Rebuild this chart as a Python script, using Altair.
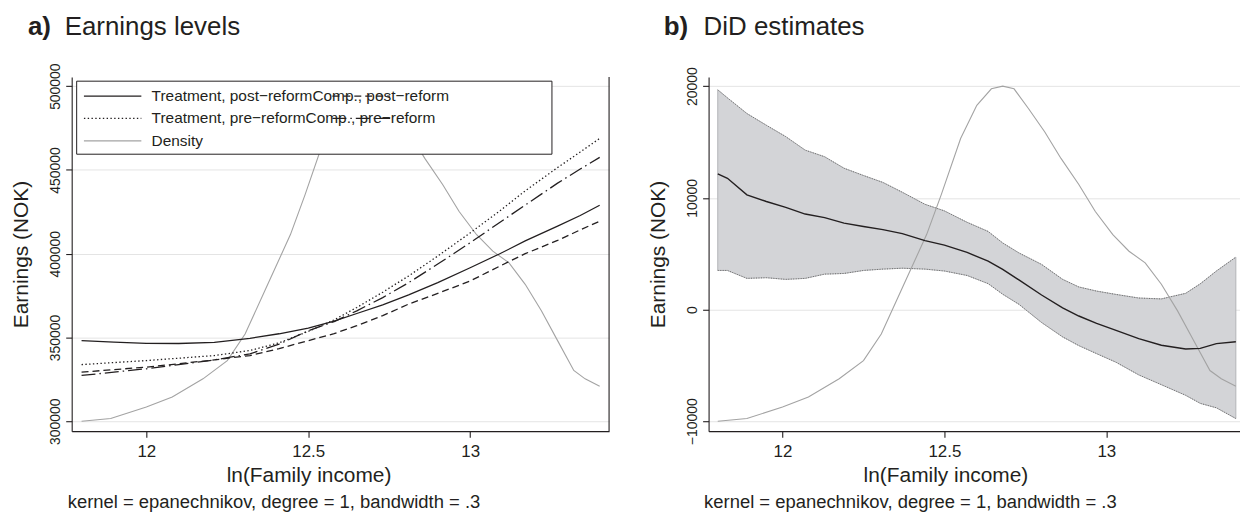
import altair as alt
import pandas as pd

FONT = "Liberation Sans"
INK = "#231f20"
GRID = "#e4e4e4"
DENS_COLOR = "#a3a3a3"

# ---------------- data ----------------
XTICKS = [12, 12.5, 13]
A_YTICKS = [300000, 350000, 400000, 450000, 500000]
B_YTICKS = [-10000, 0, 10000, 20000]

# Panel a: earnings levels (NOK) against ln(family income)
A_X = [11.80, 11.90, 12.00, 12.10, 12.21, 12.32, 12.41, 12.50, 12.58, 12.65,
       12.73, 12.81, 12.90, 13.00, 13.09, 13.17, 13.27, 13.34, 13.40]
A_TREAT_POST = [348100, 347200, 346500, 346400, 347000, 349500, 352200, 355600, 359700, 364300,
                369500, 375400, 382700, 391600, 399800, 407600, 416400, 422800, 428900]
A_TREAT_PRE = [333800, 335000, 336200, 337600, 339200, 342200, 346800, 353600, 360500, 367900,
               377000, 386700, 398600, 412400, 425300, 437500, 451400, 460700, 468800]
A_COMP_POST = [329300, 330800, 332300, 334300, 336600, 339200, 343300, 348100, 352300, 357000,
               363000, 369900, 376300, 383700, 392400, 400000, 407900, 414200, 419400]
A_COMP_PRE = [327300, 329300, 331300, 333800, 336600, 340200, 346000, 354000, 359500, 365900,
              373800, 382700, 393800, 406500, 418500, 429000, 442100, 450500, 457500]

# Density of ln(family income) (grey curve), as drawn in each panel
DENS_X = [11.80, 11.89, 12.00, 12.08, 12.175, 12.25, 12.305, 12.375, 12.445, 12.49,
          12.55, 12.60, 12.645, 12.68, 12.715, 12.76, 12.81, 12.86, 12.915, 12.966,
          13.02, 13.07, 13.12, 13.17, 13.22, 13.27, 13.32, 13.355, 13.40]
A_DENS = [300000, 301600, 308500, 314500, 325300, 336200, 352000, 381700, 411400, 435100,
          468700, 488500, 498400, 500000, 498400, 486500, 472700, 456900, 441300, 425200,
          411300, 401500, 394500, 381700, 365900, 348100, 330300, 325300, 320900]
B_DENS = [-10000, -9760, -8720, -7830, -6200, -4570, -2200, 2260, 6710, 10270,
          15310, 18280, 19760, 20000, 19760, 17980, 15900, 13530, 11200, 8780,
          6700, 5220, 4180, 2260, -120, -2790, -5460, -6200, -6860]

# Panel b: DiD estimate with confidence band
B_X = [11.80, 11.83, 11.89, 11.95, 12.01, 12.07, 12.13, 12.19, 12.25, 12.31,
       12.37, 12.44, 12.50, 12.57, 12.635, 12.68, 12.73, 12.80, 12.865, 12.915,
       12.97, 13.03, 13.10, 13.17, 13.245, 13.29, 13.34, 13.40]
B_EST = [12140, 11750, 10270, 9670, 9150, 8550, 8230, 7740, 7430, 7150,
         6800, 6170, 5760, 5110, 4330, 3590, 2650, 1300, 150, -580,
         -1240, -1870, -2600, -3200, -3530, -3480, -3050, -2880]
B_HI = [19670, 18950, 17550, 16500, 15480, 14270, 13680, 12650, 12000, 11380,
        10500, 9420, 8830, 7810, 6990, 5960, 5070, 4040, 2700, 2020,
        1650, 1350, 1030, 950, 1450, 2300, 3450, 4690]
B_LO = [3500, 3500, 2790, 2850, 2700, 2790, 3170, 3230, 3500, 3620,
        3700, 3620, 3450, 3050, 2320, 1370, 470, -1160, -2450, -3230,
        -3950, -4720, -5850, -6730, -7680, -8400, -8800, -9760]

LEGEND_COL1 = ["Treatment, post\u2212reform", "Treatment, pre\u2212reform", "Density"]
LEGEND_COL2 = ["Comp., post\u2212reform", "Comp., pre\u2212reform"]
TITLE_A = ("a)", "Earnings levels")
TITLE_B = ("b)", "DiD estimates")
NOTE = "kernel = epanechnikov, degree = 1, bandwidth = .3"
X_TITLE = "ln(Family income)"
Y_TITLE = "Earnings (NOK)"

# ---------------- layout ----------------
WA, WB, H = 540, 534, 356

XA = alt.Scale(domain=[11.7695, 13.429], nice=False, zero=False)
YA = alt.Scale(domain=[294060, 505520], nice=False, zero=False)
XB = alt.Scale(domain=[11.7717, 13.4128], nice=False, zero=False)
YB = alt.Scale(domain=[-10891, 20829], nice=False, zero=False)

ONE = pd.DataFrame({"k": [0]})


def x_enc(scale):
    return alt.X("x:Q", scale=scale, axis=alt.Axis(
        values=XTICKS, format="~g", grid=False,
        title=X_TITLE, titleX=238, titleAlign="center",
        titleFontSize=21, titleFontWeight="normal", titlePadding=6,
        labelFontSize=17, labelPadding=6, tickSize=6))


def y_enc(scale, ticks):
    return alt.Y("y:Q", scale=scale, axis=alt.Axis(
        values=ticks, format="d", grid=True, gridColor=GRID, gridWidth=1,
        labelAngle=270, labelAlign="center", labelBaseline="bottom",
        labelFontSize=14, labelPadding=3, tickSize=6,
        title=Y_TITLE, titleAngle=270, titleBaseline="bottom",
        titleFontSize=21, titleFontWeight="normal", titlePadding=17))


def line(xs, ys, xs_scale, ys_scale, ticks, color=INK, width=1.3, dash=None):
    kw = dict(color=color, strokeWidth=width)
    if dash:
        kw["strokeDash"] = dash
    return alt.Chart(pd.DataFrame({"x": xs, "y": ys})).mark_line(**kw).encode(
        x=x_enc(xs_scale), y=y_enc(ys_scale, ticks))


def text(t, x, y, size, weight="normal", align="left", baseline="alphabetic"):
    return alt.Chart(ONE).mark_text(
        font=FONT, fontSize=size, fontWeight=weight, align=align,
        baseline=baseline, color=INK).encode(
        x=alt.value(x), y=alt.value(y), text=alt.value(t))


def hrule(x1, x2, y, color=INK, width=1.3, dash=None):
    kw = dict(color=color, strokeWidth=width)
    if dash:
        kw["strokeDash"] = dash
    return alt.Chart(ONE).mark_rule(**kw).encode(
        x=alt.value(x1), x2=alt.value(x2), y=alt.value(y))


DOTTED = [1.4, 2.4]
DASHED = [7, 4]
LONG_DASH_DOT = [14, 4, 1.5, 4]

# ---------------- panel a ----------------
border_a = alt.Chart(ONE).mark_rule(color=INK, strokeWidth=1.1).encode(
    x=alt.value(WA), y=alt.value(0), y2=alt.value(H))

legend_box = alt.Chart(ONE).mark_rect(fill="white", stroke=INK, strokeWidth=1).encode(
    x=alt.value(5), x2=alt.value(482.6), y=alt.value(4.3), y2=alt.value(77.7))

ROWS = [19.3, 41.7, 64.3]
LEG_FS = 15.5
legend_a = [
    legend_box,
    text(LEGEND_COL1[0] + LEGEND_COL2[0], 80.3, ROWS[0], LEG_FS, baseline="middle"),
    text(LEGEND_COL1[1] + LEGEND_COL2[1], 80.3, ROWS[1], LEG_FS, baseline="middle"),
    text(LEGEND_COL1[2], 80.3, ROWS[2], LEG_FS, baseline="middle"),
    hrule(12.3, 70, ROWS[0]),
    hrule(12.3, 70, ROWS[1], dash=DOTTED),
    hrule(12.3, 70, ROWS[2], color=DENS_COLOR, width=1.1),
    hrule(262, 320, ROWS[0], dash=DASHED),
    hrule(262, 320, ROWS[1], dash=LONG_DASH_DOT),
]

panel_a = alt.layer(
    line(DENS_X, A_DENS, XA, YA, A_YTICKS, color=DENS_COLOR, width=1.1),
    line(A_X, A_COMP_POST, XA, YA, A_YTICKS, dash=DASHED),
    line(A_X, A_COMP_PRE, XA, YA, A_YTICKS, dash=LONG_DASH_DOT),
    line(A_X, A_TREAT_PRE, XA, YA, A_YTICKS, dash=DOTTED),
    line(A_X, A_TREAT_POST, XA, YA, A_YTICKS),
    border_a,
    *legend_a,
    text(TITLE_A[0], -44, -42, 26, weight="bold"),
    text(TITLE_A[1], -7, -42, 26),
    text(NOTE, -4, 433, 18.5),
).properties(width=WA, height=H)

# ---------------- panel b ----------------
band = alt.Chart(pd.DataFrame({"x": B_X, "y": B_HI, "lo": B_LO})).mark_area(
    color="#d3d4d7", stroke="#b3b4b7", strokeWidth=1).encode(
    x=x_enc(XB), y=y_enc(YB, B_YTICKS), y2="lo:Q")

panel_b = alt.layer(
    band,
    line(B_X, B_HI, XB, YB, B_YTICKS, color="#6e6e6e", width=1, dash=[1, 1.5]),
    line(B_X, B_LO, XB, YB, B_YTICKS, color="#6e6e6e", width=1, dash=[1, 1.5]),
    line(DENS_X, B_DENS, XB, YB, B_YTICKS, color=DENS_COLOR, width=1.1),
    line(B_X, B_EST, XB, YB, B_YTICKS, width=1.4),
    text(TITLE_B[0], -45, -42, 26, weight="bold"),
    text(TITLE_B[1], -5, -42, 26),
    text(NOTE, -4.5, 433, 18.5),
).properties(width=WB, height=H)

chart = alt.hconcat(panel_a, panel_b, spacing=100, bounds="flush").properties(
    padding={"left": 3, "top": 5, "right": 0, "bottom": 0}
).configure_view(stroke=None).configure_axis(
    labelFont=FONT, titleFont=FONT, labelColor=INK, titleColor=INK,
    domainColor=INK, tickColor=INK, domainWidth=1.1, tickWidth=1.1
)

chart.save("out.html", embed_options={"renderer": "svg", "actions": False})
